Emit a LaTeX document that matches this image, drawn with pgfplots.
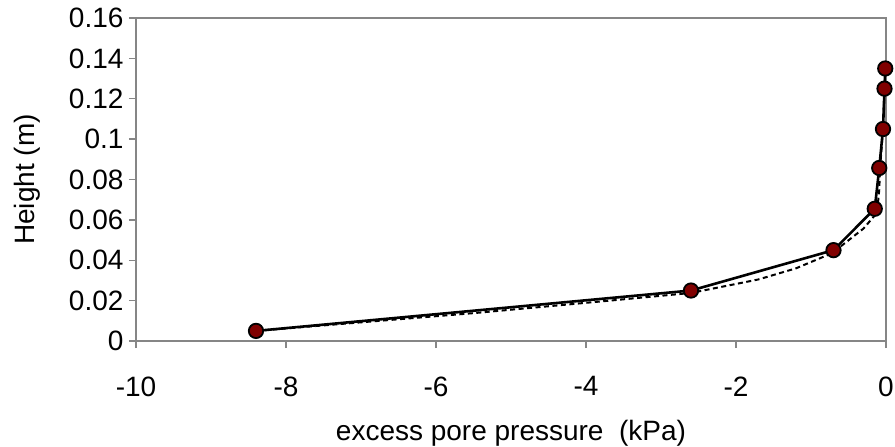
\documentclass[border=0pt]{standalone}
\usepackage{fontspec}
\setmainfont{Liberation Sans}
\usepackage{pgfplots}
\pgfplotsset{compat=1.18}
\definecolor{mk}{RGB}{128,0,0}
\definecolor{fr}{RGB}{134,134,134}
\newcommand{\tickf}{\fontsize{28pt}{32pt}\selectfont}
\begin{document}
\begin{tikzpicture}[font=\tickf]
\begin{axis}[
  scale only axis,
  width=750pt, height=323pt,
  xmin=-10, xmax=0, ymin=0, ymax=0.16,
  axis line style={fr, line width=1.8pt},
  tick style={fr, line width=1.3pt},
  tick align=outside,
  major tick length=7pt,
  xtick={-10,-8,-6,-4,-2,0},
  xticklabels={-10,-8,-6,-4,-2,0},
  ytick={0,0.02,0.04,0.06,0.08,0.1,0.12,0.14,0.16},
  yticklabels={0,0.02,0.04,0.06,0.08,0.1,0.12,0.14,0.16},
  xtick pos=bottom, ytick pos=left,
  tick label style={font=\tickf},
  xticklabel style={yshift=-25pt},
  yticklabel style={xshift=-2pt},
  clip=false,
]
\addplot[black, line width=2pt, dash pattern=on 5pt off 3.5pt] coordinates {
(-8.4,0.005) (-5.5,0.0138) (-3.8,0.0196) (-2.6,0.0238)
(-1.7,0.0305) (-1.2,0.0360) (-0.72,0.0435) (-0.30,0.0557) (-0.12,0.0635)
(-0.09,0.075) (-0.08,0.085) (-0.04,0.105) (-0.02,0.125) (-0.01,0.135)
};
\addplot[black, line width=2.6pt, mark=*, mark size=7.2pt,
  mark options={fill=mk, draw=black, line width=1.8pt, solid}] coordinates {
(-8.4,0.005) (-2.6,0.025) (-0.70,0.045) (-0.15,0.0655) (-0.09,0.0857)
(-0.04,0.105) (-0.02,0.125) (-0.01,0.135)
};
\end{axis}
\node[anchor=base, font=\tickf] at ([yshift=-100pt]current axis.south) {excess pore pressure\ \ (kPa)};
\node[anchor=base, rotate=90, font=\tickf] at ([xshift=-101pt]current axis.west) {Height (m)};
\pgfresetboundingbox
\path ([xshift=-136pt,yshift=-106pt]current axis.south west) rectangle ([xshift=9pt,yshift=18pt]current axis.north east);
\end{tikzpicture}
\end{document}
